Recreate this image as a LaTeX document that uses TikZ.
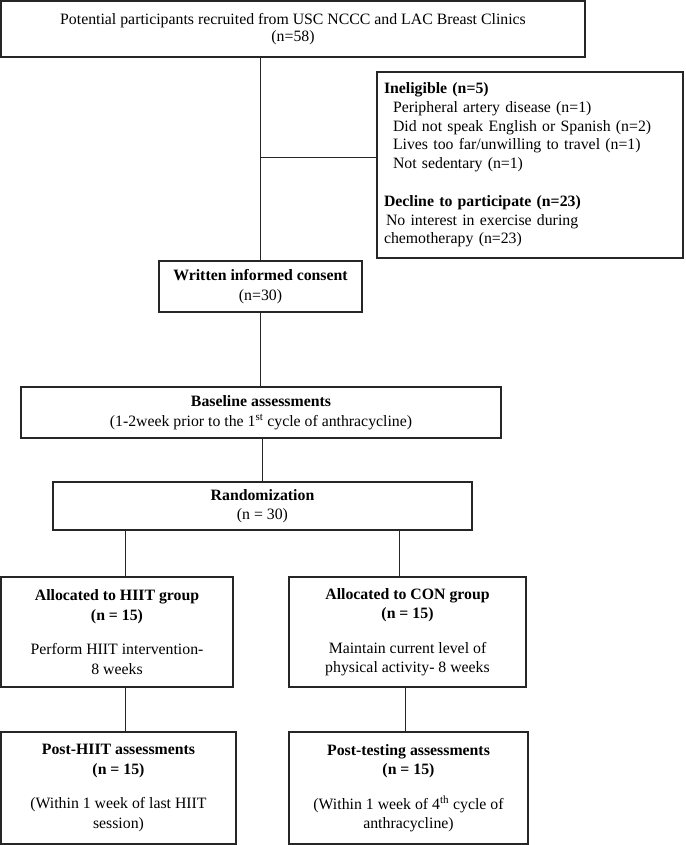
\documentclass[tikz,border=0pt]{standalone}
\usepackage{fontspec}
\setmainfont{Liberation Serif}
\begin{document}
\begin{tikzpicture}[x=1pt,y=-1pt,
  box/.style={draw=black!85,line width=1.3pt,rectangle,inner sep=0pt,align=center,
    font=\fontsize{15.8}{19.5}\selectfont},
  conn/.style={draw=black!85,line width=1pt}]
\useasboundingbox (0,0) rectangle (685,845);
% boxes
\node[box,minimum width=584pt,minimum height=56pt,font=\fontsize{15.8}{16.5}\selectfont] (top) at (293,29)
  {\raisebox{3pt}{\shortstack{Potential participants recruited from USC NCCC and LAC Breast Clinics\\(n=58)}}};
\node[box,minimum width=306pt,minimum height=186pt,align=left,text width=292pt,font=\fontsize{15.8}{18.7}\selectfont] (inel) at (530,165)
  {\textbf{Ineligible (n=5)}\\
   \hspace*{9pt}Peripheral artery disease (n=1)\\
   \hspace*{9pt}Did not speak English or Spanish (n=2)\\
   \hspace*{9pt}Lives too far/unwilling to travel (n=1)\\
   \hspace*{9pt}Not sedentary (n=1)\\[19pt]
   \textbf{Decline to participate (n=23)}\\
   \hspace*{2pt}No interest in exercise during\\
   chemotherapy (n=23)\\[6pt]};
\node[box,minimum width=203pt,minimum height=51pt] (consent) at (260.5,286.5)
  {\textbf{Written informed consent}\\(n=30)};
\node[box,minimum width=480pt,minimum height=51pt] (base) at (261,412.5)
  {\textbf{Baseline assessments}\\(1-2week prior to the 1\textsuperscript{st} cycle of anthracycline)};
\node[box,minimum width=419pt,minimum height=48pt] (rand) at (262.5,506)
  {\raisebox{-4pt}{\shortstack{\textbf{Randomization}\\[5pt](n = 30)}}};
\node[box,minimum width=232pt,minimum height=110pt] (hiit) at (117,632)
  {\textbf{Allocated to HIIT group}\\\textbf{(n = 15)}\\[15pt]Perform HIIT intervention-\\8 weeks};
\node[box,minimum width=237pt,minimum height=110pt] (con) at (407.5,632)
  {\textbf{Allocated to CON group}\\\textbf{(n = 15)}\\[15pt]Maintain current level of\\physical activity- 8 weeks};
\node[box,minimum width=235pt,minimum height=112pt] (posth) at (118.5,788)
  {\textbf{Post-HIIT assessments}\\\textbf{(n = 15)}\\[15pt](Within 1 week of last HIIT\\session)};
\node[box,minimum width=239pt,minimum height=112pt] (postc) at (408.5,788)
  {\textbf{Post-testing assessments}\\\textbf{(n = 15)}\\[15pt](Within 1 week of 4\textsuperscript{th} cycle of\\anthracycline)};
% connectors
\coordinate (br) at (260,158);
\draw[conn] (top.south -| br) -- (consent.north -| br);
\draw[conn] (br) -- (br -| inel.west);
\draw[conn] (consent.south -| br) -- (base.north -| br);
\coordinate (c2) at (262,0);
\draw[conn] (base.south -| c2) -- (rand.north -| c2);
\coordinate (cl) at (125,0);
\coordinate (cr) at (399,0);
\coordinate (cr2) at (405,0);
\draw[conn] (rand.south -| cl) -- (hiit.north -| cl);
\draw[conn] (rand.south -| cr) -- (con.north -| cr);
\draw[conn] (hiit.south -| cl) -- (posth.north -| cl);
\draw[conn] (con.south -| cr2) -- (postc.north -| cr2);
\end{tikzpicture}
\end{document}
